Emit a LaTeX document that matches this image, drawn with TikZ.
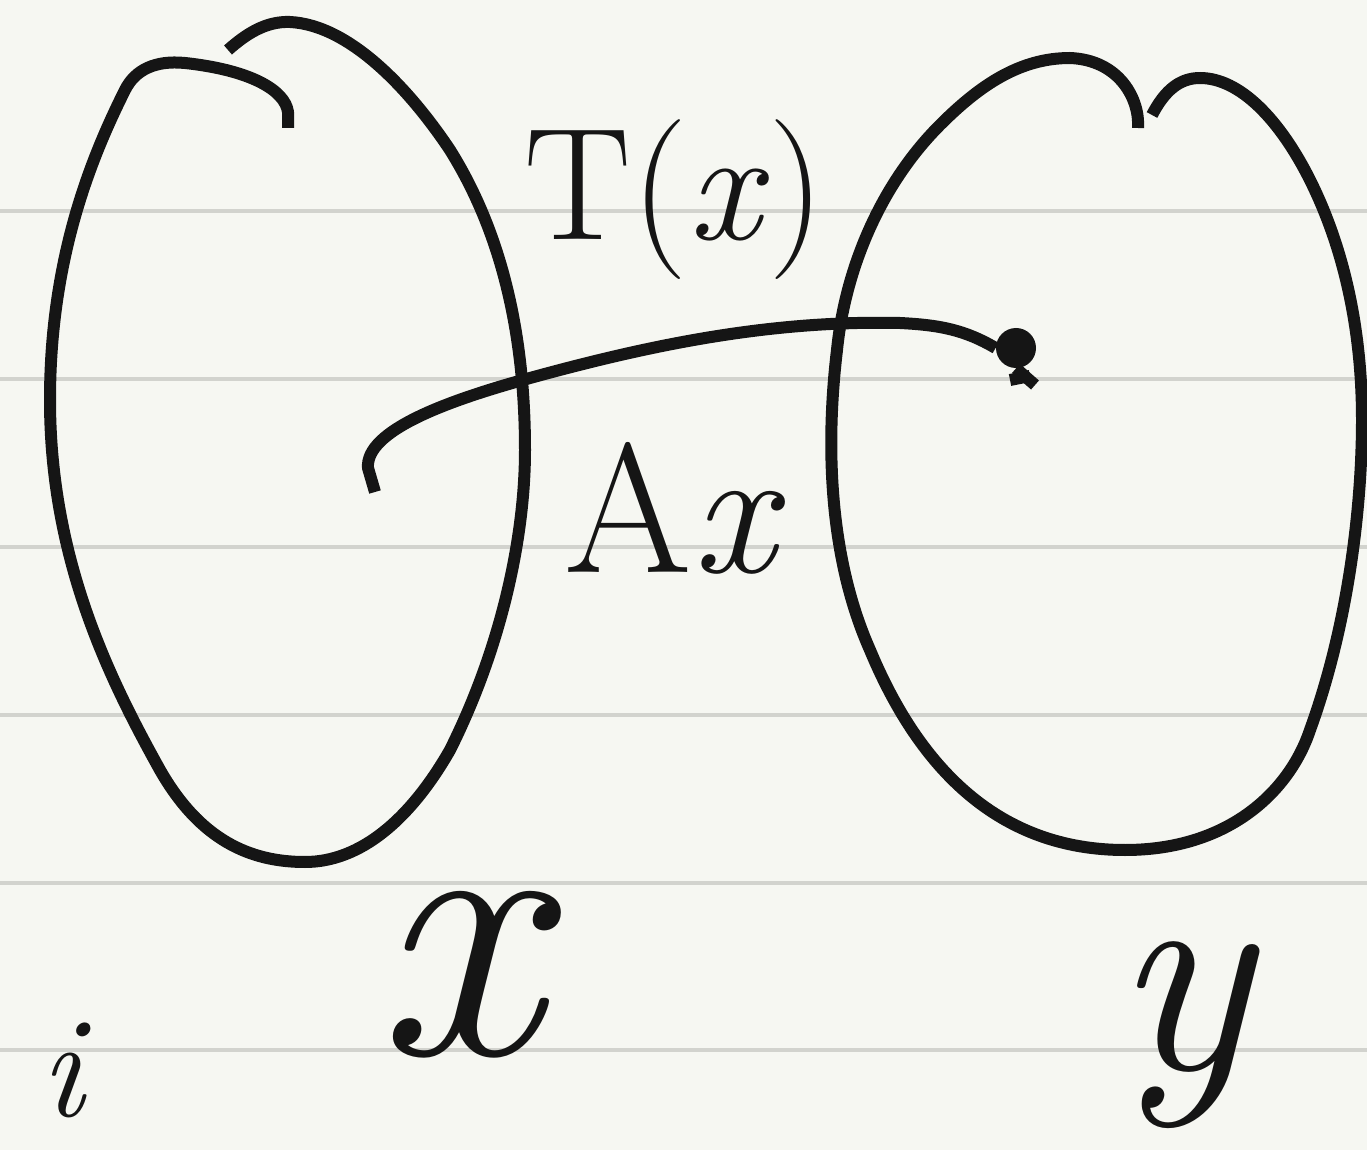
\documentclass[tikz,border=0pt]{standalone}
\usepackage{fontspec}
\definecolor{paper}{HTML}{F6F7F2}
\definecolor{rule}{HTML}{D2D3CE}
\definecolor{ink}{HTML}{151515}
\tikzset{
  ruleline/.style={draw=rule,line width=2pt},
  inkline/.style={draw=ink,line width=6pt,line cap=butt,line join=round},
  hand/.style={text=ink,inner sep=0pt}
}
\begin{document}
\begin{tikzpicture}[x=0.5pt,y=-0.5pt]
\fill[paper] (0,0) rectangle (1367,1150);
\useasboundingbox (0,0) rectangle (1367,1150);
\foreach \yy in {211,379,547,715,883,1050}
  \draw[ruleline] (0,\yy) -- (1367,\yy);
% left set X
\draw[inkline] (288,128) -- (288,112) .. controls (285,90) and (250,70) .. (185,63)
  .. controls (155,60) and (135,70) .. (125,90)
  .. controls (90,160) and (50,260) .. (50,400)
  .. controls (50,560) and (110,680) .. (160,770)
  .. controls (200,840) and (250,862) .. (305,862)
  .. controls (360,862) and (410,820) .. (450,750)
  .. controls (500,650) and (525,540) .. (525,450)
  .. controls (525,330) and (500,230) .. (450,150)
  .. controls (410,90) and (350,25) .. (290,22)
  .. controls (265,21) and (245,35) .. (228,50);
% right set Y
\draw[inkline] (1138,128) .. controls (1140,100) and (1120,60) .. (1070,58)
  .. controls (1020,58) and (980,85) .. (940,125)
  .. controls (880,185) and (845,270) .. (837,350)
  .. controls (825,450) and (830,560) .. (870,650)
  .. controls (920,770) and (1000,850) .. (1125,850)
  .. controls (1230,850) and (1290,790) .. (1310,730)
  .. controls (1350,620) and (1362,500) .. (1362,420)
  .. controls (1362,320) and (1340,240) .. (1310,180)
  .. controls (1280,120) and (1240,78) .. (1200,78)
  .. controls (1180,78) and (1165,90) .. (1152,115);
% mapping curve
\coordinate (start) at (375,492);
\node[circle,fill=ink,minimum size=20pt,inner sep=0pt] (dot) at (1016,348) {};
\draw[inkline] (start) -- (368,468) .. controls (365,430) and (450,400) .. (530,378)
  .. controls (650,345) and (770,320) .. (900,323)
  .. controls (940,325) and (965,330) .. (dot.west);
\draw[inkline] (dot.south) -- (1035,385);
\draw[inkline] (1010,380) -- (1030,376);
% labels
\node[hand,font=\fontsize{80}{84}\selectfont] (tx) at (675,200) {T(\textit{x})};
\node[hand,font=\fontsize{92}{96}\selectfont] (ax) at (675,508) {A\textit{x}};
\node[hand,font=\fontsize{185}{195}\selectfont\itshape] (xl) at (458,975) {x};
\node[hand,font=\fontsize{145}{155}\selectfont\itshape] (yl) at (1182,1035) {y};
\node[hand,font=\fontsize{72}{76}\selectfont\itshape] (il) at (62,1070) {i};
\end{tikzpicture}
\end{document}
